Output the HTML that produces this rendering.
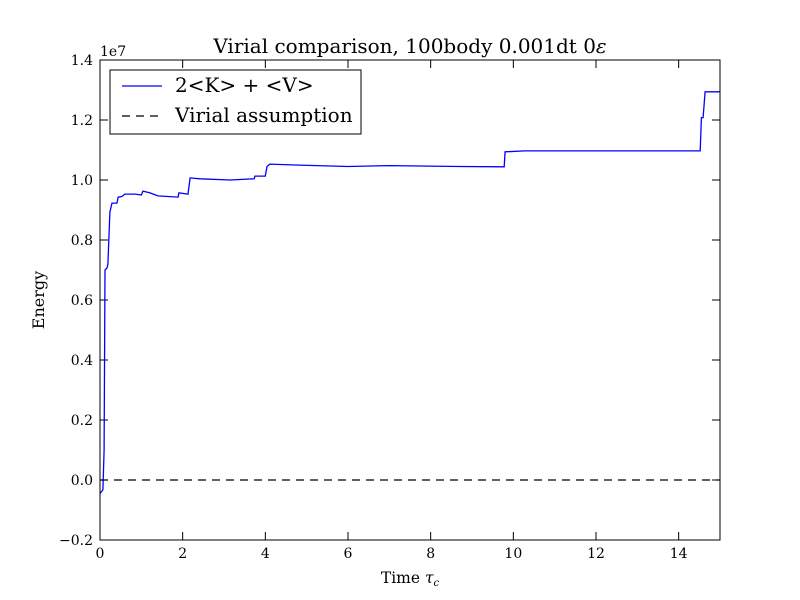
<!DOCTYPE html>
<html><head><meta charset="utf-8"><style>body{margin:0;background:#fff}svg{display:block}text{font-family:"DejaVu Serif","Liberation Serif",serif}</style></head>
<body>
<svg id="chart" width="800" height="600" xmlns="http://www.w3.org/2000/svg">
<rect width="800" height="600" fill="#fff"/>
<g id="ticks"></g>
<path id="series" fill="none" stroke="#0000ff" stroke-width="1.3"/>
<line id="virial" stroke="#000" stroke-width="1.3" stroke-dasharray="8,6"/>
<rect x="100" y="60" width="620" height="480" fill="none" stroke="#000" stroke-width="1"/>
<text x="410" y="53" font-size="20" text-anchor="middle">Virial comparison, 100body 0.001dt 0<tspan font-style="italic">ε</tspan></text>
<text x="100" y="56" font-size="14">1e7</text>
<text x="410" y="583" font-size="15.5" text-anchor="middle">Time <tspan font-style="italic">τ</tspan><tspan font-style="italic" font-size="10" dy="3">c</tspan></text>
<text transform="translate(44,300) rotate(-90)" font-size="16" text-anchor="middle">Energy</text>
<g>
<rect x="110" y="70" width="251" height="64" fill="#fff" stroke="#000" stroke-width="1"/>
<line x1="122" y1="86" x2="162" y2="86" stroke="#0000ff" stroke-width="1.3"/>
<text x="175" y="92" font-size="20">2&lt;K&gt; + &lt;V&gt;</text>
<line x1="122" y1="116" x2="162" y2="116" stroke="#000" stroke-width="1.3" stroke-dasharray="8,6"/>
<text x="175" y="122" font-size="20">Virial assumption</text>
</g>
</svg>
<script>
const times=[0,0.07,0.1,0.12,0.17,0.19,0.24,0.29,0.41,0.44,0.53,0.6,0.85,1.0,1.04,1.21,1.4,1.89,1.91,2.13,2.18,2.42,3.15,3.73,3.75,4.0,4.04,4.11,4.72,6,7,8.7,9.78,9.8,10.28,14.52,14.55,14.59,14.64,15];
const energy=[-0.045,-0.033,0.1,0.7,0.707,0.72,0.893,0.923,0.923,0.943,0.945,0.953,0.953,0.95,0.963,0.957,0.947,0.943,0.957,0.953,1.007,1.004,1.0,1.004,1.013,1.013,1.045,1.053,1.05,1.045,1.048,1.045,1.044,1.094,1.097,1.097,1.208,1.208,1.294,1.294];
const xTicks=[0,2,4,6,8,10,12,14];
const yTicks=[-0.2,0,0.2,0.4,0.6,0.8,1.0,1.2,1.4];
const virial=0;
const X=t=>100+t/15*620, Y=v=>540-(v+0.2)/1.6*480;
const ns="http://www.w3.org/2000/svg";
const g=document.getElementById('ticks');
function mk(tag,at){const e=document.createElementNS(ns,tag);for(const k in at)e.setAttribute(k,at[k]);g.appendChild(e);return e;}
xTicks.forEach(t=>{const x=X(t);
 const a=mk('line',{x1:x,x2:x,y1:540,y2:532,stroke:'#000'});
 
 
 const b=mk('line',{x1:x,x2:x,y1:60,y2:68,stroke:'#000'});
 
 
 const l=mk('text',{x:x,y:558,'font-size':14,'text-anchor':'middle'});l.textContent=t;
 
 });
yTicks.forEach(v=>{const y=Y(v);
 const a=mk('line',{x1:100,x2:108,y1:y,y2:y,stroke:'#000'});
 
 
 const b=mk('line',{x1:712,x2:720,y1:y,y2:y,stroke:'#000'});
 
 
 const l=mk('text',{x:93,y:y+5,'font-size':14,'text-anchor':'end'});l.textContent=(v<0?'\u2212':'')+Math.abs(v).toFixed(1);
 
 });
document.getElementById('series').setAttribute('d',times.map((t,i)=>(i?'L':'M')+X(t).toFixed(1)+','+Y(energy[i]).toFixed(1)).join(''));
const vl=document.getElementById('virial');
vl.setAttribute('x1',X(0));vl.setAttribute('x2',X(15));vl.setAttribute('y1',Y(virial));vl.setAttribute('y2',Y(virial));
</script>
</body></html>
